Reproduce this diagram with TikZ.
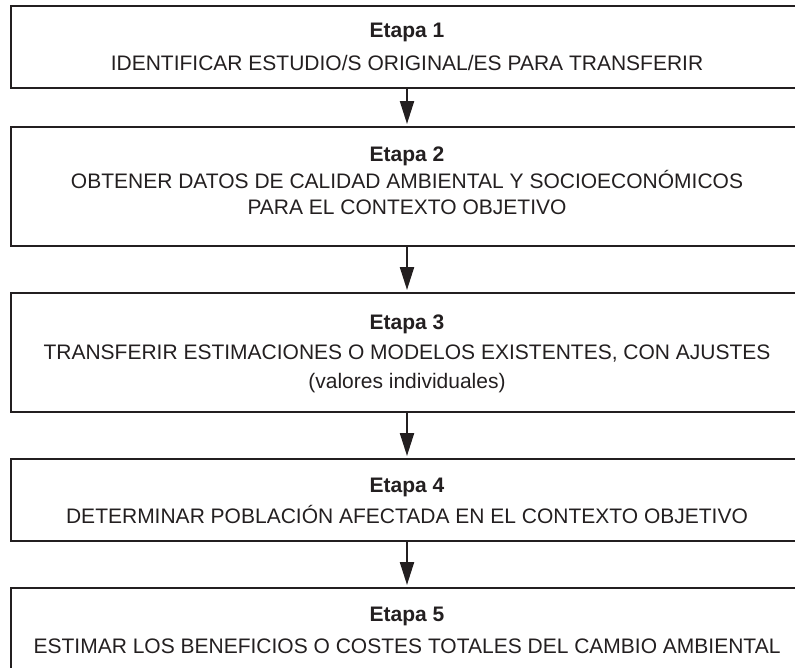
\documentclass[tikz,border=0pt]{standalone}
\usepackage{fontspec}
\setmainfont{Liberation Sans}
\usetikzlibrary{arrows.meta}
\definecolor{inkgray}{HTML}{231F20}
\begin{document}
\begin{tikzpicture}[x=1pt,y=-1pt,
  stagebox/.style={rectangle, draw=inkgray, line width=2.4pt, minimum width=792pt, inner sep=0pt, outer sep=0pt},
  ttl/.style={anchor=base, font=\fontsize{21}{25}\selectfont\bfseries, text=inkgray, inner sep=0pt},
  txt/.style={anchor=base, font=\fontsize{21}{25}\selectfont, text=inkgray, inner sep=0pt},
  flow/.style={draw=inkgray, line width=2.2pt, -{Triangle[length=23pt,width=14pt]}, shorten >=3pt}]
\useasboundingbox (0,0) rectangle (795,667);
\clip (0,0) rectangle (795,667);
% boxes
\node[stagebox, minimum height=82pt]  (b1) at (407,47) {};
\node[stagebox, minimum height=119pt] (b2) at (407,186.5) {};
\node[stagebox, minimum height=119pt] (b3) at (407,352.5) {};
\node[stagebox, minimum height=82pt]  (b4) at (407,500) {};
\node[stagebox, minimum height=82pt]  (b5) at (407,629) {};
% texts
\node[ttl] (t1) at (407,37.7) {Etapa 1};
\node[txt] (d1) at (407,70.4) {IDENTIFICAR ESTUDIO/S ORIGINAL/ES PARA TRANSFERIR};
\node[ttl] (t2) at (407,161.4) {Etapa 2};
\node[txt] (d2a) at (407,188.4) {OBTENER DATOS DE CALIDAD AMBIENTAL Y SOCIOECONÓMICOS};
\node[txt] (d2b) at (407,214.9) {PARA EL CONTEXTO OBJETIVO};
\node[ttl] (t3) at (407,329.9) {Etapa 3};
\node[txt] (d3a) at (407,359.9) {TRANSFERIR ESTIMACIONES O MODELOS EXISTENTES, CON AJUSTES};
\node[txt] (d3b) at (407,388) {(valores individuales)};
\node[ttl] (t4) at (407,492.4) {Etapa 4};
\node[txt] (d4) at (407,523.4) {DETERMINAR POBLACIÓN AFECTADA EN EL CONTEXTO OBJETIVO};
\node[ttl] (t5) at (407,621.4) {Etapa 5};
\node[txt] (d5) at (407,653.4) {ESTIMAR LOS BENEFICIOS O COSTES TOTALES DEL CAMBIO AMBIENTAL};
% connectors
\draw[flow] (b1.south) -- (b2.north);
\draw[flow] (b2.south) -- (b3.north);
\draw[flow] (b3.south) -- (b4.north);
\draw[flow] (b4.south) -- (b5.north);
\end{tikzpicture}
\end{document}
